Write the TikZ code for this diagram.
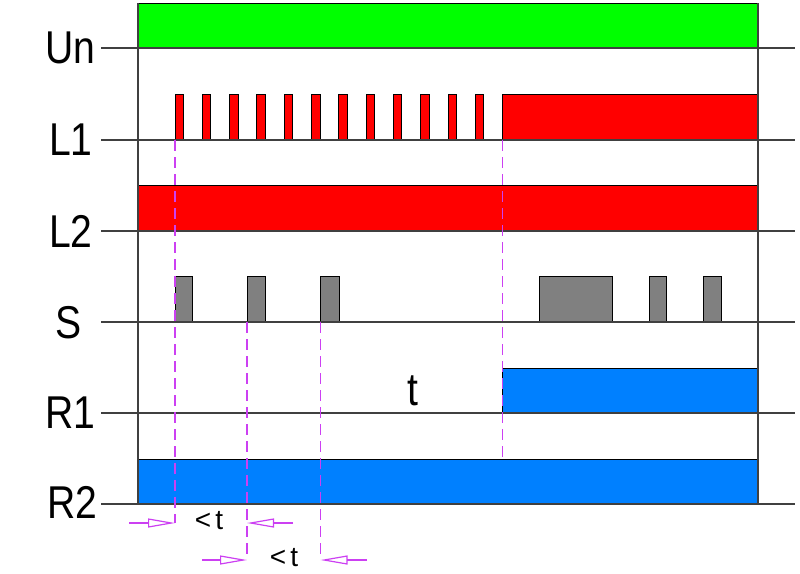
\documentclass[tikz,border=0pt]{standalone}
\usepackage{fontspec}
\newfontfamily\lblfont[FakeStretch=0.85]{Liberation Sans}
\newfontfamily\smallfont{Liberation Sans}
\usetikzlibrary{arrows.meta}
\usetikzlibrary{positioning}
\definecolor{mgreen}{rgb}{0, 1, 0}
\definecolor{mred}{rgb}{1, 0, 0}
\definecolor{mblue}{rgb}{0, 0.5, 1}
\definecolor{mgray}{rgb}{0.5, 0.5, 0.5}
\definecolor{mviolet}{rgb}{0.8, 0.25, 0.95}
\definecolor{mline}{rgb}{0.25, 0.25, 0.25}
\tikzset{sig/.style = {draw = black, line width = 0.9pt}}
\tikzset{axis/.style = {draw = mline, line width = 1.3pt}}
\tikzset{mark line/.style = {draw = mviolet, line width = 1.4pt, dash pattern = on 11pt off 6pt}}
\tikzset{lim arrow/.style = {draw = mviolet, line width = 1.2pt, -{Triangle[open, length = 27pt, width = 9pt]}}}
\tikzset{lbl/.style = {font = \lblfont\fontsize{46}{46}\selectfont, inner sep = 0}}
\tikzset{small lbl/.style = {font = \smallfont\fontsize{28}{28}\selectfont, inner sep = 0}}

\begin{document}
\begin{tikzpicture}[x=1pt, y=-1pt]
  \useasboundingbox (0, 0) rectangle (800, 573);

  % signals
  \draw [sig, fill = mgreen] (138, 3) rectangle (758, 48);
  \foreach \i in {0,...,11}
    \draw [sig, fill = mred] ({175 + 27.3*\i}, 94) rectangle ({183.5 + 27.3*\i}, 140);
  \draw [sig, fill = mred] (502.5, 94) rectangle (758, 140);
  \draw [sig, fill = mred] (138, 185) rectangle (758, 231);
  \foreach \a/\b in {175/192.7, 247/265.7, 320.5/339, 539.3/612.3, 649/666.7, 703.3/721.7}
    \draw [sig, fill = mgray] (\a, 276) rectangle (\b, 322);
  \draw [sig, fill = mblue] (502.5, 368) rectangle (758, 413);
  \draw [sig, fill = mblue] (138, 459) rectangle (758, 504);

  % axes
  \draw [axis] (138, 3) -- (138, 504);
  \draw [axis] (758, 3) -- (758, 504);
  \foreach \y in {48, 140, 231, 322, 413, 504}
    \draw [axis] (101, \y) -- (795, \y);

  % labels
  \node [lbl] (un) at (70, 48) {Un};
  \node [lbl] (lone) at (71, 140) {L1};
  \node [lbl] (ltwo) at (71, 231) {L2};
  \node [lbl] (s) at (69, 323) {S};
  \node [lbl] (rone) at (70, 413) {R1};
  \node [lbl] (rtwo) at (72, 502) {R2};
  \node [lbl] (t) at (413, 391) {t};

  % markers
  \coordinate (m1top) at (175, 140);
  \coordinate (m1bot) at (175, 523);
  \coordinate (m2top) at (247, 322);
  \coordinate (m2bot) at (247, 560);
  \coordinate (m3top) at (320.5, 322);
  \coordinate (m3bot) at (320.5, 560);
  \coordinate (m4top) at (502.5, 140);
  \coordinate (m4bot) at (502.5, 458);
  \draw [mark line] (m1top) -- (m1bot);
  \draw [mark line] (m2top) -- (m2bot);
  \draw [mark line] (m3top) -- (m3bot);
  \draw [mark line] (m4top) -- (m4bot);

  % limits
  \coordinate (a1) at (129, 523);
  \coordinate (a2) at (293, 523);
  \coordinate (a3) at (202, 560);
  \coordinate (a4) at (367, 560);
  \draw [lim arrow] (a1) -- (m1bot);
  \draw [lim arrow] (a2) -- (m2top |- m1bot);
  \draw [lim arrow] (a3) -- (m2bot);
  \draw [lim arrow] (a4) -- (m3bot);
  \node [small lbl] (lt1) at (209, 521) {<\hspace{4pt}t};
  \node [small lbl] (lt2) at (284, 558) {<\hspace{4pt}t};
\end{tikzpicture}
\end{document}
